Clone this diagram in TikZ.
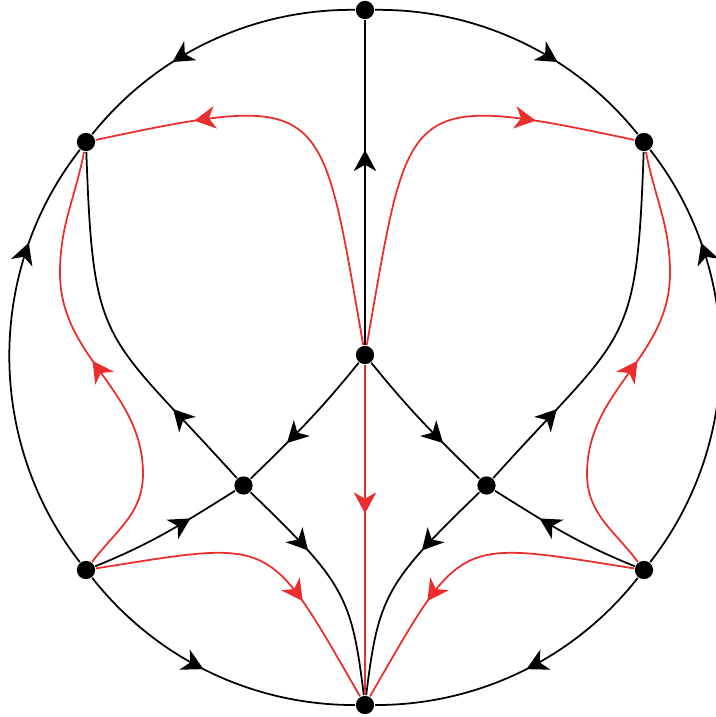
\documentclass[tikz,border=0pt]{standalone}
\usepackage{xcolor}
\usepackage{tikz}
\usepackage{tikz-feynman}
\usetikzlibrary{arrows.meta, decorations.markings}
\definecolor{flowred}{RGB}{236,45,45}
\tikzset{
  blob/.style={circle, fill=black, inner sep=0pt, minimum size=5.2pt},
  flow/.style={decoration={markings, mark=at position #1 with {\arrow{Stealth[length=6pt, width=6.4pt, inset=1.8pt]}}}, postaction=decorate},
  redline/.style={draw=flowred},
}

\begin{document}
\begin{tikzpicture}[line width=0.5pt]
\useasboundingbox (-3.65,-3.60) rectangle (3.50,3.57);
\begin{feynman}
\vertex[blob] (T) at (0, 3.47) {};
\vertex[blob] (B) at (0, -3.48) {};
\vertex[blob] (UL) at (-2.79, 2.15) {};
\vertex[blob] (UR) at (2.79, 2.15) {};
\vertex[blob] (LL) at (-2.79, -2.13) {};
\vertex[blob] (LR) at (2.79, -2.13) {};
\vertex[blob] (C) at (0, 0.02) {};
\vertex[blob] (L) at (-1.215, -1.285) {};
\vertex[blob] (R) at (1.215, -1.285) {};
\vertex (s1) at (-2.22, -1.17);
\vertex (s2) at (-3.05, 0.84);
\vertex (s3) at (2.22, -1.17);
\vertex (s4) at (3.05, 0.84);
\diagram*{
	(T) -- [flow=0.64, bend right=26, looseness=0.9] (UL),
	(LL) -- [flow=0.76, bend left=38, looseness=0.95] (UL),
	(LL) -- [flow=0.48, bend right=26, looseness=0.9] (B),
	(LR) -- [flow=0.48, bend left=26, looseness=0.9] (B),
	(LR) -- [flow=0.76, bend right=38, looseness=0.95] (UR),
	(T) -- [flow=0.64, bend left=26, looseness=0.9] (UR),
	(C) -- [flow=0.6] (T),
	(C) -- [flow=0.68, out=-129, in=44] (L),
	(C) -- [flow=0.68, out=-51, in=136] (R),
	(L) -- [flow=0.25, out=132, in=-88, distance=2cm] (UL),
	(R) -- [flow=0.25, out=48, in=-92, distance=2cm] (UR),
	(LL) -- [flow=0.67, out=22, in=-148] (L),
	(LR) -- [flow=0.67, out=158, in=-32] (R),
	(L) -- [flow=0.34, out=-44, in=97, out distance=1.3cm, in distance=1cm] (B),
	(R) -- [flow=0.34, out=-136, in=83, out distance=1.3cm, in distance=1cm] (B),
	(C) -- [redline, flow=0.45] (B),
	(C) -- [redline, flow=0.77, out=100, in=12, out distance=2.5cm, in distance=2.4cm] (UL),
	(C) -- [redline, flow=0.77, out=80, in=168, out distance=2.5cm, in distance=2.4cm] (UR),
	(LL) -- [redline, out=53, in=-90] (s1) -- [redline, flow=0.57, out=90, in=-90] (s2) -- [redline, out=90, in=-101] (UL),
	(LR) -- [redline, out=127, in=-90] (s3) -- [redline, flow=0.57, out=90, in=-90] (s4) -- [redline, out=90, in=-79] (UR),
	(LL) -- [redline, flow=0.67, out=9, in=120, out distance=1.83cm, in distance=1.87cm] (B),
	(LR) -- [redline, flow=0.67, out=171, in=60, out distance=1.83cm, in distance=1.87cm] (B)
};
\end{feynman}
\end{tikzpicture}
\end{document}
